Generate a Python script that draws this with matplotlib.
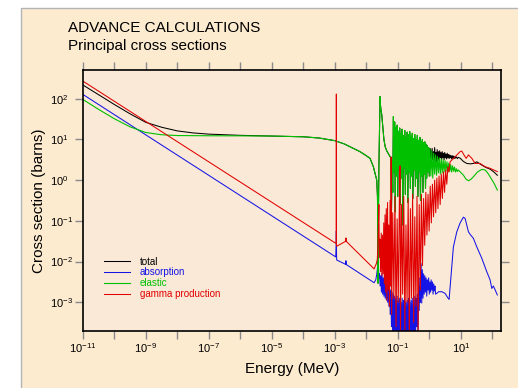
import numpy as np
import matplotlib
matplotlib.use("Agg")
import matplotlib.pyplot as plt
from matplotlib.patches import Rectangle
from matplotlib.ticker import FixedLocator, FuncFormatter, NullLocator

plt.rcParams['font.family'] = ['Liberation Sans', 'DejaVu Sans']
plt.rcParams['mathtext.fontset'] = 'custom'
plt.rcParams['mathtext.rm'] = 'Liberation Sans'
plt.rcParams['mathtext.it'] = 'Liberation Sans:italic'
plt.rcParams['mathtext.bf'] = 'Liberation Sans:bold'

# ---------------- data (log10 of energy in MeV, log10 of cross section in barns) -------------
series_labels = ["total", "absorption", "elastic", "gamma production"]
series_colors = ["#000000", "#1414E6", "#00C000", "#E00000"]

x_tick_exponents = list(range(-11, 3))
x_label_exponents = [-11, -9, -7, -5, -3, -1, 1]
y_tick_exponents = [-3, -2, -1, 0, 1, 2]

elastic_logE = [
    -11.0, -10.5, -10.0, -9.5, -9.0, -8.5, -8.0, -7.0, -6.0, -5.0, -4.0, -3.5, -3.0, -2.7,
    -2.41, -2.2, -2.0, -1.88, -1.775, -1.70, -1.667, -1.645, -1.632, -1.625, -1.615, -1.60,
    -1.58, -1.562, -1.55, -1.53, -1.51, -1.48, -1.44, -1.40, -1.35, -1.30, -1.244,
    -1.22, -1.20, -1.18, -1.16, -1.14, -1.12, -1.10, -1.08, -1.06, -1.04, -1.02, -1.00,
    -0.98, -0.96, -0.94, -0.92, -0.90, -0.88, -0.86, -0.84, -0.82, -0.80, -0.78, -0.76,
    -0.74, -0.72, -0.70, -0.68, -0.66, -0.64, -0.62, -0.60, -0.58, -0.56, -0.54, -0.52,
    -0.50, -0.48, -0.46, -0.44, -0.42, -0.40, -0.38, -0.36, -0.34, -0.32, -0.30, -0.28,
    -0.26, -0.24, -0.22, -0.20, -0.18, -0.16, -0.14, -0.12, -0.10, -0.08, -0.06, -0.04,
    -0.02, 0.00, 0.02, 0.05, 0.08, 0.11, 0.14, 0.17, 0.20, 0.23, 0.26, 0.29, 0.32, 0.35,
    0.38, 0.41, 0.44, 0.47, 0.50, 0.53, 0.56, 0.59, 0.62, 0.65, 0.68, 0.71, 0.74, 0.77,
    0.80, 0.83, 0.86, 0.89, 0.92, 0.978, 1.083, 1.16, 1.243, 1.32, 1.40, 1.53, 1.667,
    1.772, 1.85, 1.93, 2.05, 2.16]
elastic_logS = [
    1.985, 1.74, 1.51, 1.31, 1.17, 1.115, 1.095, 1.09, 1.088, 1.083, 1.065, 1.035, 0.97, 0.89,
    0.78, 0.70, 0.60, 0.535, 0.33, 0.10, 0.0, -0.40, -1.20, -2.53, -1.00, 0.30,
    1.20, 2.05, 1.85, 1.70, 1.62, 1.35, 1.00, 0.82, 0.72, 0.65, 0.575,
    0.56, -0.78, 0.50, -0.30, 1.56, 0.20, 1.43, -0.78, 1.30, 0.10, 1.35, -0.40,
    1.20, 0.25, 1.28, -0.60, 1.15, 0.05, 1.25, -1.10, 1.10, 0.30, 1.22, -0.35,
    1.05, 0.15, 1.18, -0.55, 1.12, 0.20, 1.19, -0.20, 1.08, 0.10, 1.15, -0.45,
    1.02, 0.25, 1.12, -0.15, 1.00, 0.05, 1.10, -0.40, 0.98, 0.20, 1.05, -0.50,
    0.95, 0.10, 1.00, -0.30, 0.92, 0.15, 0.94, -0.20, 0.88, 0.05, 0.85, 0.20,
    0.80, 0.10, 0.78, 0.10, 0.72, 0.05, 0.66, 0.15, 0.62, 0.12, 0.58, 0.18, 0.55, 0.15,
    0.52, 0.18, 0.50, 0.20, 0.48, 0.22, 0.45, 0.20, 0.42, 0.22, 0.38, 0.20, 0.35, 0.22,
    0.32, 0.20, 0.28, 0.21, 0.25, 0.206, 0.123, 0.03, -0.015, 0.02, 0.083, 0.20, 0.265,
    0.25, 0.18, 0.083, -0.07, -0.243]

absorption_logE = [
    -11.0, -2.97, -2.955, -2.95, -2.946, -2.94, -2.65, -2.645, -2.64, -1.75, -1.70, -1.67,
    -1.65, -1.635, -1.625, -1.615, -1.60, -1.58, -1.56, -1.54, -1.52, -1.50, -1.48, -1.46,
    -1.44, -1.42, -1.40, -1.38, -1.36, -1.34, -1.32, -1.30, -1.28, -1.26, -1.24, -1.22,
    -1.20, -1.18, -1.16, -1.14, -1.12, -1.10, -1.08, -1.06, -1.04, -1.02, -1.00, -0.98,
    -0.96, -0.94, -0.92, -0.90, -0.88, -0.86, -0.84, -0.82, -0.80, -0.78, -0.76, -0.74,
    -0.72, -0.70, -0.68, -0.66, -0.64, -0.62, -0.60, -0.58, -0.56, -0.54, -0.52, -0.50,
    -0.48, -0.46, -0.44, -0.42, -0.40, -0.38, -0.36, -0.34, -0.32, -0.30, -0.28, -0.26,
    -0.24, -0.22, -0.20, -0.18, -0.16, -0.14, -0.12, -0.10, -0.08, -0.06, -0.04, -0.02,
    0.00, 0.02, 0.04, 0.06, 0.08, 0.10, 0.12, 0.14, 0.16, 0.18, 0.20, 0.238, 0.30, 0.397,
    0.50, 0.58, 0.629, 0.714, 0.765, 0.873, 0.978, 1.083, 1.137, 1.243, 1.295, 1.40,
    1.508, 1.667, 1.825, 1.93, 1.984, 2.035, 2.16]
absorption_logS = [
    2.108, -1.885, -1.60, -1.25, -1.70, -1.96, -2.07, -1.98, -2.07, -2.52, -2.45, -2.33,
    -2.20, -2.05, -1.50, -2.00, -2.40, -2.30, -2.60, -2.35, -2.75, -2.30, -2.80, -2.40,
    -2.85, -2.30, -2.90, -2.45, -2.95, -2.50, -3.00, -2.55, -3.10, -2.60, -3.30, -2.70,
    -3.60, -2.75, -4.00, -2.80, -3.70, -2.85, -4.00, -2.90, -3.80, -2.85, -4.00, -2.95,
    -3.90, -2.90, -4.00, -3.00, -3.70, -2.90, -4.00, -2.95, -3.80, -2.90, -4.00, -3.00,
    -3.90, -2.95, -4.00, -2.90, -3.70, -3.00, -4.00, -2.95, -3.80, -2.90, -4.00, -2.95,
    -3.90, -2.85, -4.00, -2.90, -3.60, -2.80, -3.80, -2.60, -3.20, -2.40, -3.00, -2.05,
    -3.02, -2.20, -2.90, -2.30, -2.80, -2.35, -2.75, -2.40, -2.85, -2.45, -2.70, -2.40,
    -2.80, -2.50, -2.75, -2.45, -2.70, -2.50, -2.80, -2.55, -2.72, -2.60, -2.80, -2.78, -2.74, -2.74,
    -2.78, -2.88, -2.93, -2.13, -1.64, -1.27, -1.05, -0.91, -0.94, -1.27, -1.33, -1.43,
    -1.64, -1.92, -2.25, -2.45, -2.66, -2.60, -2.82]

gamma_logE = [
    -11.0, -2.97, -2.955, -2.952, -2.95, -2.948, -2.945, -2.93, -2.65, -2.645, -2.64, -1.75,
    -1.68, -1.65, -1.63, -1.615, -1.60, -1.585, -1.565, -1.545, -1.525, -1.505, -1.485,
    -1.465, -1.445, -1.425, -1.405, -1.385, -1.365, -1.345, -1.325, -1.305, -1.285, -1.265,
    -1.245, -1.225, -1.21, -1.195, -1.16, -1.125, -1.09, -1.055, -1.02, -0.985, -0.95,
    -0.93, -0.915, -0.88, -0.845, -0.81, -0.775, -0.74, -0.705, -0.67, -0.635, -0.60,
    -0.565, -0.53, -0.495, -0.46, -0.425, -0.39, -0.355, -0.32, -0.285, -0.25, -0.215,
    -0.18, -0.145, -0.11, -0.075, -0.04, -0.005, 0.03, 0.065, 0.10, 0.135, 0.17, 0.205,
    0.24, 0.275, 0.31, 0.345, 0.38, 0.415, 0.45, 0.485, 0.52, 0.555, 0.59, 0.625, 0.66,
    0.82, 0.978, 1.03, 1.10, 1.17, 1.243, 1.35, 1.455, 1.61, 1.77, 1.93, 2.16]
gamma_logS = [
    2.435, -1.55, -1.54, 0.30, 2.115, 0.30, -1.62, -1.62, -1.50, -1.42, -1.50, -2.18,
    -2.05, -1.95, -1.60, -1.10, -0.60, -1.90, -1.45, -2.25, -1.30, -2.35, -1.35,
    -2.30, -1.05, -2.55, -0.85, -2.75, -0.70, -2.95, -0.55, -2.70, -1.10, -3.10,
    -0.50, -2.60, 0.57, -3.30, -0.80, -2.90, -0.40, -3.60, -0.95, -3.00, -0.50,
    0.35, -3.90, -0.60, -2.80, -0.40, -3.70, -1.10, -3.00, -0.45, -3.90, -0.70,
    -2.90, -0.35, -3.50, -0.90, -3.10, -0.40, -3.80, -0.60, -2.70, -0.35, -2.10,
    -0.45, -1.60, -0.30, -1.35, -0.35, -1.25, -0.15, -1.05, -0.10, -0.90, 0.00, -0.80,
    0.05, -0.70, 0.10, -0.60, 0.15, -0.45, 0.20, -0.30, 0.25, -0.10, 0.33, 0.20, 0.45,
    0.575, 0.70, 0.715, 0.62, 0.535, 0.62, 0.535, 0.41, 0.41, 0.33, 0.29, 0.21]

total_low_logE = [-11.0, -10.5, -10.0, -9.5, -9.0, -8.5, -8.0, -7.5, -7.0, -6.0]
total_low_logS = [2.34, 2.10, 1.86, 1.63, 1.42, 1.30, 1.21, 1.16, 1.13, 1.10]
total_high_logE = [
    0.03, 0.05, 0.07, 0.09, 0.11, 0.13, 0.15, 0.17, 0.19, 0.21, 0.23, 0.25, 0.27, 0.29,
    0.31, 0.33, 0.35, 0.37, 0.39, 0.41, 0.43, 0.45, 0.47, 0.49, 0.51, 0.53, 0.55, 0.57,
    0.59, 0.61, 0.63, 0.65, 0.67, 0.69, 0.71, 0.73, 0.75, 0.77, 0.79, 0.81, 0.83, 0.86,
    0.89, 0.92, 0.978, 1.08, 1.19, 1.30, 1.40, 1.508, 1.667, 1.80, 1.93, 2.05, 2.16]
total_high_logS = [
    0.55, 0.72, 0.45, 0.78, 0.50, 0.70, 0.42, 0.80, 0.55, 0.68, 0.45, 0.75, 0.52, 0.70,
    0.48, 0.72, 0.55, 0.68, 0.50, 0.70, 0.55, 0.66, 0.50, 0.68, 0.55, 0.64, 0.52, 0.66,
    0.55, 0.63, 0.53, 0.62, 0.55, 0.60, 0.52, 0.60, 0.54, 0.59, 0.53, 0.58, 0.54, 0.57,
    0.53, 0.56, 0.54, 0.46, 0.41, 0.40, 0.41, 0.45, 0.37, 0.31, 0.27, 0.20, 0.12]

# total between 1e-6 and ~1 MeV coincides with the elastic curve (absorption is negligible)
el_E = np.array(elastic_logE)
el_S = np.array(elastic_logS)
mid = (el_E > -6.0) & (el_E < 0.03)
total_logE = np.concatenate([total_low_logE, el_E[mid], total_high_logE])
total_logS = np.concatenate([total_low_logS, el_S[mid], total_high_logS])

all_E = [total_logE, absorption_logE, elastic_logE, gamma_logE]
all_S = [total_logS, absorption_logS, elastic_logS, gamma_logS]

# ---------------- figure ----------------
W, H = 518, 388
fig = plt.figure(figsize=(W / 100, H / 100), dpi=100, facecolor='white')
fig.patches.append(Rectangle((21 / W, -0.05), 1.1, 1.05 - 8 / H, transform=fig.transFigure,
                             facecolor='#FDEBD0', edgecolor='#B4B4B4', lw=1.0, zorder=-10))

ax = fig.add_axes([82.7 / W, (H - 331) / H, 418.3 / W, 261 / H])
ax.set_facecolor('#FAE9D6')

lws = [0.75, 0.75, 0.8, 0.75]
for E, S, lab, col, lw in zip(all_E, all_S, series_labels, series_colors, lws):
    ax.plot(10.0 ** np.asarray(E), 10.0 ** np.asarray(S), color=col, lw=lw, label=lab)

ax.set_xscale('log')
ax.set_yscale('log')
ax.set_xlim(1e-11, 10 ** 2.276)
ax.set_ylim(10 ** -3.705, 10 ** 2.705)

ax.xaxis.set_major_locator(FixedLocator([10.0 ** e for e in x_tick_exponents]))
ax.yaxis.set_major_locator(FixedLocator([10.0 ** e for e in y_tick_exponents]))
ax.xaxis.set_minor_locator(NullLocator())
ax.yaxis.set_minor_locator(NullLocator())


def xfmt(v, pos):
    e = int(round(np.log10(v)))
    return r'$\mathregular{10^{%d}}$' % e if e in x_label_exponents else ''


def yfmt(v, pos):
    e = int(round(np.log10(v)))
    return r'$\mathregular{10^{%d}}$' % e


ax.xaxis.set_major_formatter(FuncFormatter(xfmt))
ax.yaxis.set_major_formatter(FuncFormatter(yfmt))
ax.tick_params(which='major', direction='out', length=5.5, width=1.0, color='#8A8A8A',
               top=True, right=True, labeltop=False, labelright=False, labelsize=8)
ax.tick_params(axis='y', pad=18)
ax.tick_params(axis='x', pad=1.5)
for lbl in ax.get_yticklabels():
    lbl.set_horizontalalignment('left')
for sp in ax.spines.values():
    sp.set_linewidth(1.2)
    sp.set_color('black')

ax.set_xlabel('Energy (MeV)', fontsize=11)
ax.set_ylabel('Cross section (barns)', fontsize=11)
ax.xaxis.set_label_coords(0.5, -0.118)
ax.yaxis.set_label_coords(-0.088, 0.5)

leg = ax.legend(loc='upper left', bbox_to_anchor=(0.0516, 0.285), frameon=False, fontsize=7,
                handlelength=2.64, handletextpad=1.0, labelspacing=0.08, borderpad=0,
                borderaxespad=0)
for txt, ln in zip(leg.get_texts(), leg.get_lines()):
    txt.set_color(ln.get_color())

fig.text(67.7 / W, 1 - 31.7 / H, 'ADVANCE CALCULATIONS', fontsize=11, va='baseline', ha='left')
fig.text(68.0 / W, 1 - 50.0 / H, 'Principal cross sections', fontsize=11, va='baseline', ha='left')

fig.savefig('out.png', dpi=100, facecolor=fig.get_facecolor())
